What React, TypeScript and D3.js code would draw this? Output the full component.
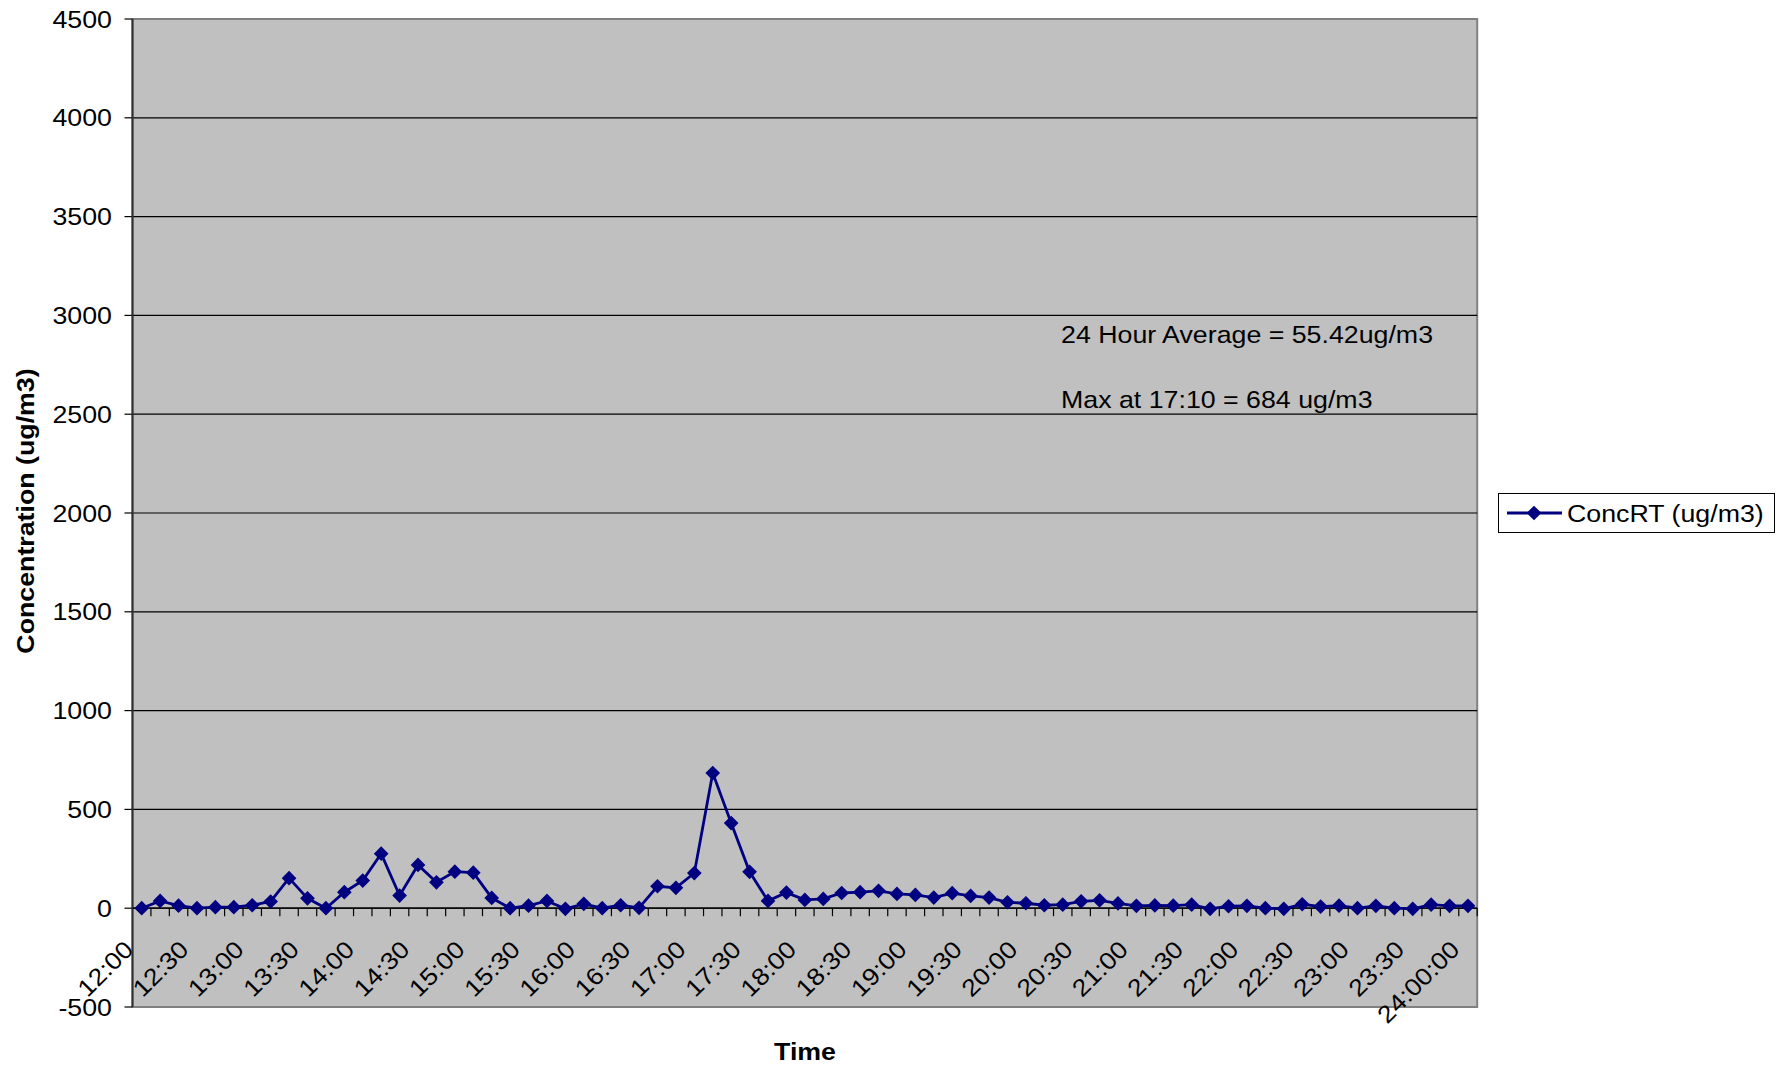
import React from "react";
import * as d3 from "d3";

const times: string[] = [];
for (let h = 12; h <= 24; h++) {
  for (let m = 0; m < 60; m += 10) {
    if (h === 24 && m > 0) break;
    times.push(h === 24 ? "24:00:00" : `${h}:${m === 0 ? "00" : m}`);
  }
}

const concValues = [
  0, 37, 13, 0, 5, 5, 15, 34, 152, 50,
  0, 81, 140, 276, 64, 219, 131, 185, 180, 52,
  0, 13, 37, -3, 22, 0, 15, 2, 111, 103,
  178, 684, 431, 184, 37, 79, 42, 47, 77, 81,
  88, 72, 67, 54, 76, 62, 54, 30, 25, 15,
  18, 35, 40, 24, 12, 14, 13, 18, -3, 10,
  12, 0, -3, 20, 8, 13, 0, 12, 0, -3,
  18, 12, 12,
];

const yTicks = [-500, 0, 500, 1000, 1500, 2000, 2500, 3000, 3500, 4000, 4500];
const seriesName = "ConcRT (ug/m3)";
const notes = ["24 Hour Average = 55.42ug/m3", "Max at 17:10 = 684 ug/m3"];

const W = 1782, H = 1067;
const L = 132.5, R = 1477.2, T = 19, B = 1007;
const FONT = "'Liberation Sans', Arial, sans-serif";
const NAVY = "#000080";
const SX = 1.115;

function T_(props: { x: number; y: number; rot?: number; anchor?: string; bold?: boolean; dy?: string; children: React.ReactNode }) {
  const { x, y, rot, anchor, bold, dy, children } = props;
  return (
    <g transform={`translate(${x},${y})${rot ? ` rotate(${rot})` : ""} scale(${SX},1)`}>
      <text x={0} y={0} dy={dy} textAnchor={anchor || "start"} fontSize={24} fontWeight={bold ? "bold" : "normal"} fill="#000">
        {children}
      </text>
    </g>
  );
}

export default function App() {
  const x = d3.scaleBand<string>().domain(times).range([L, R]).paddingInner(0).paddingOuter(0);
  const y = d3.scaleLinear().domain([-500, 4500]).range([B, T]);
  const cx = (i: number) => (x(times[i]) as number) + x.bandwidth() / 2;
  const line = d3.line<number>().x((_, i) => cx(i)).y((d) => y(d));
  const marker = d3.symbol(d3.symbolSquare, 108)() as string;
  const y0 = y(0);

  return (
    <svg width={W} height={H} style={{ position: "absolute", left: 0, top: 0, background: "#fff" }} fontFamily={FONT}>
      <rect x={L} y={T} width={R - L} height={B - T} fill="#C0C0C0" stroke="#808080" strokeWidth={2} />
      {yTicks.map((t) => (
        <g key={t}>
          {t !== -500 && t !== 4500 && <line x1={L} x2={R} y1={y(t)} y2={y(t)} stroke="#000" strokeWidth={1.2} />}
          <line x1={L - 8} x2={L} y1={y(t)} y2={y(t)} stroke="#000" strokeWidth={1.2} />
          <T_ x={112} y={y(t)} dy="0.36em" anchor="end">{t}</T_>
        </g>
      ))}
      <line x1={L} x2={L} y1={T} y2={B} stroke="#303030" strokeWidth={2} />
      <line x1={L} x2={R} y1={y0} y2={y0} stroke="#000" strokeWidth={1.2} />
      {times.map((t, i) => (
        <line key={"tk" + i} x1={(x(t) as number) + x.bandwidth()} x2={(x(t) as number) + x.bandwidth()} y1={y0} y2={y0 + 8} stroke="#000" strokeWidth={1.2} />
      ))}
      {times.map((t, i) =>
        i % 3 === 0 ? (
          <T_ key={"lb" + i} x={cx(i) - 7} y={951} rot={-45} anchor="end">{t}</T_>
        ) : null
      )}
      <path d={line(concValues) as string} fill="none" stroke={NAVY} strokeWidth={2.8} />
      {concValues.map((v, i) => (
        <path key={"m" + i} d={marker} transform={`translate(${cx(i)},${y(v)}) rotate(45)`} fill={NAVY} />
      ))}
      <T_ x={1061} y={343}>{notes[0]}</T_>
      <T_ x={1061} y={408}>{notes[1]}</T_>
      <T_ x={805} y={1060} anchor="middle" bold>Time</T_>
      <T_ x={34} y={511} rot={-90} anchor="middle" bold>Concentration (ug/m3)</T_>
      <rect x={1498.5} y={493.5} width={276} height={39} fill="#fff" stroke="#000" strokeWidth={1} />
      <line x1={1507} x2={1562} y1={513} y2={513} stroke={NAVY} strokeWidth={2.8} />
      <path d={marker} transform={`translate(1534,513) rotate(45)`} fill={NAVY} />
      <T_ x={1567} y={522}>{seriesName}</T_>
    </svg>
  );
}
